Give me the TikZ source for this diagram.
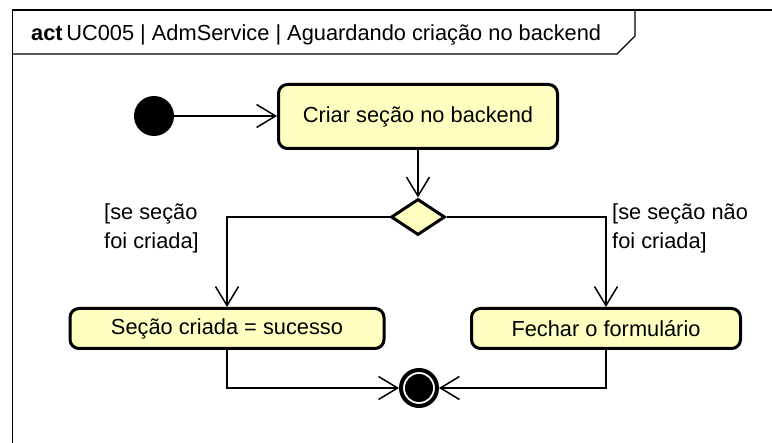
\documentclass[tikz,border=0pt]{standalone}
\usepackage{fontspec}
\setmainfont{Liberation Sans}
\usetikzlibrary{arrows.meta,shapes.geometric}
\definecolor{actfill}{RGB}{255,255,194}
\newcommand\diafont{\fontsize{21.8}{29}\selectfont}
\begin{document}
\begin{tikzpicture}[x=1pt,y=-1pt,
  actbox/.style={draw,line width=3pt,rounded corners=9pt,fill=actfill,inner sep=0pt,font=\diafont},
  flow/.style={draw,line width=1.5pt,-{Straight Barb[length=19pt,width=23pt,line width=1.5pt]}},
  framel/.style={draw,line width=1.3pt},
  guard/.style={font=\diafont,align=left,inner sep=0pt,anchor=west}]
\useasboundingbox (0,0) rectangle (772,443);
\draw[framel] (12.5,443) -- (12.5,10) -- (772,10);
\draw[framel] (12.5,54) -- (617,54) -- (635,36) -- (635,10);
\node[anchor=base west,font=\diafont,inner sep=0pt] (title) at (31,41) {\textbf{act}\,UC005 | AdmService | Aguardando criação no backend};
\node[circle,fill=black,minimum size=40pt,inner sep=0pt] (init) at (154,116) {};
\node[actbox,minimum width=279pt,minimum height=64pt] (criar) at (418,116.5) {Criar seção no backend};
\node[diamond,draw,line width=3pt,fill=actfill,minimum width=54pt,minimum height=36pt,inner sep=0pt] (dec) at (418,217) {};
\node[actbox,minimum width=314pt,minimum height=40pt] (ok) at (227,328.5) {Seção criada = sucesso};
\node[actbox,minimum width=269pt,minimum height=40pt] (close) at (606,328.5) {Fechar o formulário};
\node[circle,draw,line width=4pt,minimum size=36pt,inner sep=0pt] (final) at (419,388) {};
\node[circle,fill=black,minimum size=28pt,inner sep=0pt] (finaldot) at (final) {};
\draw[flow] (init) -- (init -| criar.west);
\draw[flow] (criar) -- (dec);
\draw[flow] (dec.west) -| (ok.north);
\draw[flow] (dec.east) -| (close.north);
\draw[flow] (ok.south) |- (final);
\draw[flow] (close.south) |- (final);
\node[guard] (g1) at (104,228) {[se seção\\foi criada]};
\node[guard] (g2) at (612,228) {[se seção não\\foi criada]};
\end{tikzpicture}
\end{document}
